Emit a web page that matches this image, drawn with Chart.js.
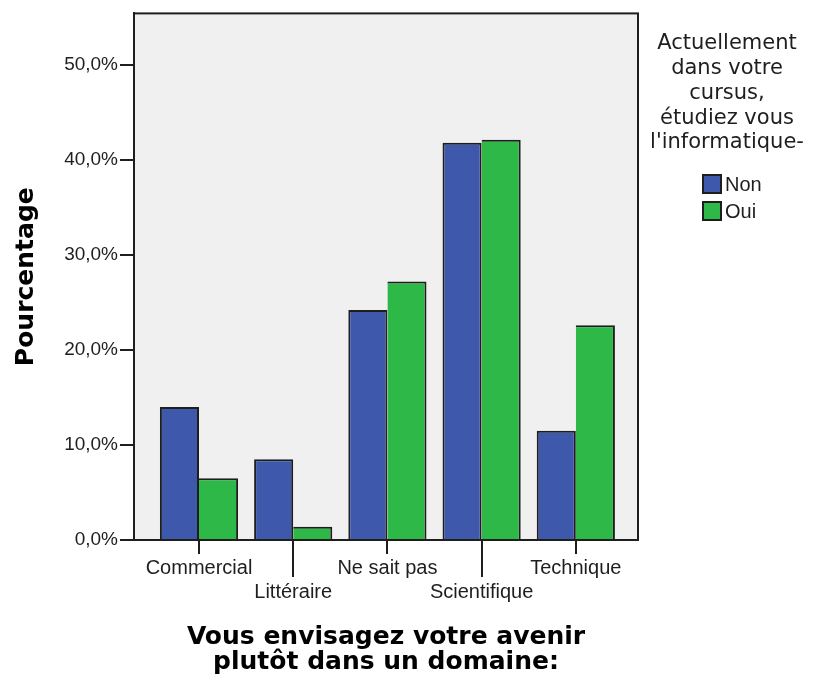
<!DOCTYPE html>
<html>
<head>
<meta charset="utf-8">
<script src="https://cdn.jsdelivr.net/npm/chart.js@4.4.0/dist/chart.umd.min.js"></script>
<style>
  html, body { margin: 0; padding: 0; background: #fff; }
</style>
</head>
<body>
<canvas id="chart" width="815" height="682"></canvas>
<script>
const categories = ["Commercial", "Littéraire", "Ne sait pas", "Scientifique", "Technique"];
const nonValues = [14.0, 8.5, 24.2, 41.8, 11.5];
const ouiValues = [6.5, 1.4, 27.2, 42.1, 22.6];
const seriesNames = ["Non", "Oui"];
const yTickValues = [0, 10, 20, 30, 40, 50];
const legendTitle = ["Actuellement", "dans votre", "cursus,", "étudiez vous", "l'informatique-"];
const xTitle = ["Vous envisagez votre avenir", "plutôt dans un domaine:"];
const yTitle = "Pourcentage";

const TICK_FONT = "'Liberation Sans', Arial, sans-serif";
const TITLE_FONT = "'DejaVu Sans', sans-serif";
const INK = "#1e1e1e";

function pct(v) {
  return v.toFixed(1).replace(".", ",") + "%";
}

const framePlugin = {
  id: "frame",
  beforeDraw(chart) {
    const a = chart.chartArea;
    const ctx = chart.ctx;
    ctx.save();
    ctx.fillStyle = "#f0f0f0";
    ctx.fillRect(a.left, a.top, a.right - a.left, a.bottom - a.top);
    ctx.restore();
  },
  afterDatasetsDraw(chart) {
    const a = chart.chartArea;
    const ctx = chart.ctx;
    const xs = chart.scales.x;
    ctx.save();
    ctx.strokeStyle = INK;
    ctx.lineWidth = 2;
    ctx.strokeRect(a.left, a.top, a.right - a.left, a.bottom - a.top);
    // longer tick marks under the staggered labels
    categories.forEach((c, i) => {
      if (i % 2 === 0) return;
      const px = Math.round(xs.getPixelForValue(i));
      ctx.beginPath();
      ctx.moveTo(px, a.bottom);
      ctx.lineTo(px, a.bottom + 37);
      ctx.stroke();
    });
    ctx.restore();
  },
  afterDraw(chart) {
    const ctx = chart.ctx;
    const cx = 727;
    ctx.save();
    ctx.fillStyle = INK;
    ctx.font = "21px " + TITLE_FONT;
    ctx.textAlign = "center";
    ctx.textBaseline = "middle";
    legendTitle.forEach((line, i) => ctx.fillText(line, cx, 44 + i * 24.7));
    ctx.font = "20px " + TICK_FONT;
    ctx.textAlign = "left";
    chart.data.datasets.forEach((ds, i) => {
      const y = 184 + i * 27;
      ctx.fillStyle = ds.backgroundColor;
      ctx.fillRect(702, y - 10, 20, 20);
      ctx.strokeStyle = INK;
      ctx.lineWidth = 2;
      ctx.strokeRect(703, y - 9, 18, 18);
      ctx.fillStyle = INK;
      ctx.fillText(ds.label, 725, y + 1);
    });
    ctx.restore();
  }
};

new Chart(document.getElementById("chart"), {
  type: "bar",
  data: {
    datasets: [
      {
        label: seriesNames[0],
        data: nonValues.map((v, i) => ({ x: i, y: v })),
        backgroundColor: "#3e58ac",
        borderColor: INK,
        borderWidth: { top: 2, left: 2, right: 2, bottom: 0 }
      },
      {
        label: seriesNames[1],
        data: ouiValues.map((v, i) => ({ x: i, y: v })),
        backgroundColor: "#2eb848",
        borderColor: INK,
        borderWidth: { top: 2, left: 0, right: 2, bottom: 0 }
      }
    ]
  },
  options: {
    responsive: false,
    animation: false,
    layout: { padding: { left: 0, top: 13, right: 177, bottom: 0 } },
    datasets: { bar: { barPercentage: 1, categoryPercentage: 0.83 } },
    plugins: { legend: { display: false }, tooltip: { enabled: false } },
    scales: {
      x: {
        type: "linear",
        offset: false,
        min: -0.69,
        max: 4.66,
        afterBuildTicks: (s) => { s.ticks = categories.map((c, i) => ({ value: i })); },
        afterFit: (s) => { s.height = 142; },
        ticks: {
          autoSkip: false,
          maxRotation: 0,
          padding: 2,
          color: INK,
          font: { family: TICK_FONT, size: 20, lineHeight: 1.2 },
          callback: (v, i) => (i % 2 ? ["", categories[v]] : categories[v])
        },
        grid: { offset: false, drawOnChartArea: false, color: INK, lineWidth: 2, tickLength: 14 },
        border: { color: INK, width: 2 },
        title: {
          display: true,
          text: xTitle,
          color: "#000",
          font: { family: TITLE_FONT, size: 25, weight: "bold", lineHeight: 1.0 },
          padding: { top: 0, bottom: 7.5 }
        }
      },
      y: {
        min: 0,
        max: 55.4,
        afterBuildTicks: (s) => { s.ticks = yTickValues.map((v) => ({ value: v })); },
        afterFit: (s) => { s.width = 134; },
        ticks: {
          padding: 2,
          color: INK,
          font: { family: TICK_FONT, size: 19 },
          callback: (v) => pct(v)
        },
        grid: { drawOnChartArea: false, color: INK, lineWidth: 2, tickLength: 14 },
        border: { color: INK, width: 2 },
        title: {
          display: true,
          text: yTitle,
          color: "#000",
          font: { family: TITLE_FONT, size: 25, weight: "bold", lineHeight: 1.2 },
          padding: { top: 11, bottom: 0 }
        }
      }
    }
  },
  plugins: [framePlugin]
});
</script>
</body>
</html>
